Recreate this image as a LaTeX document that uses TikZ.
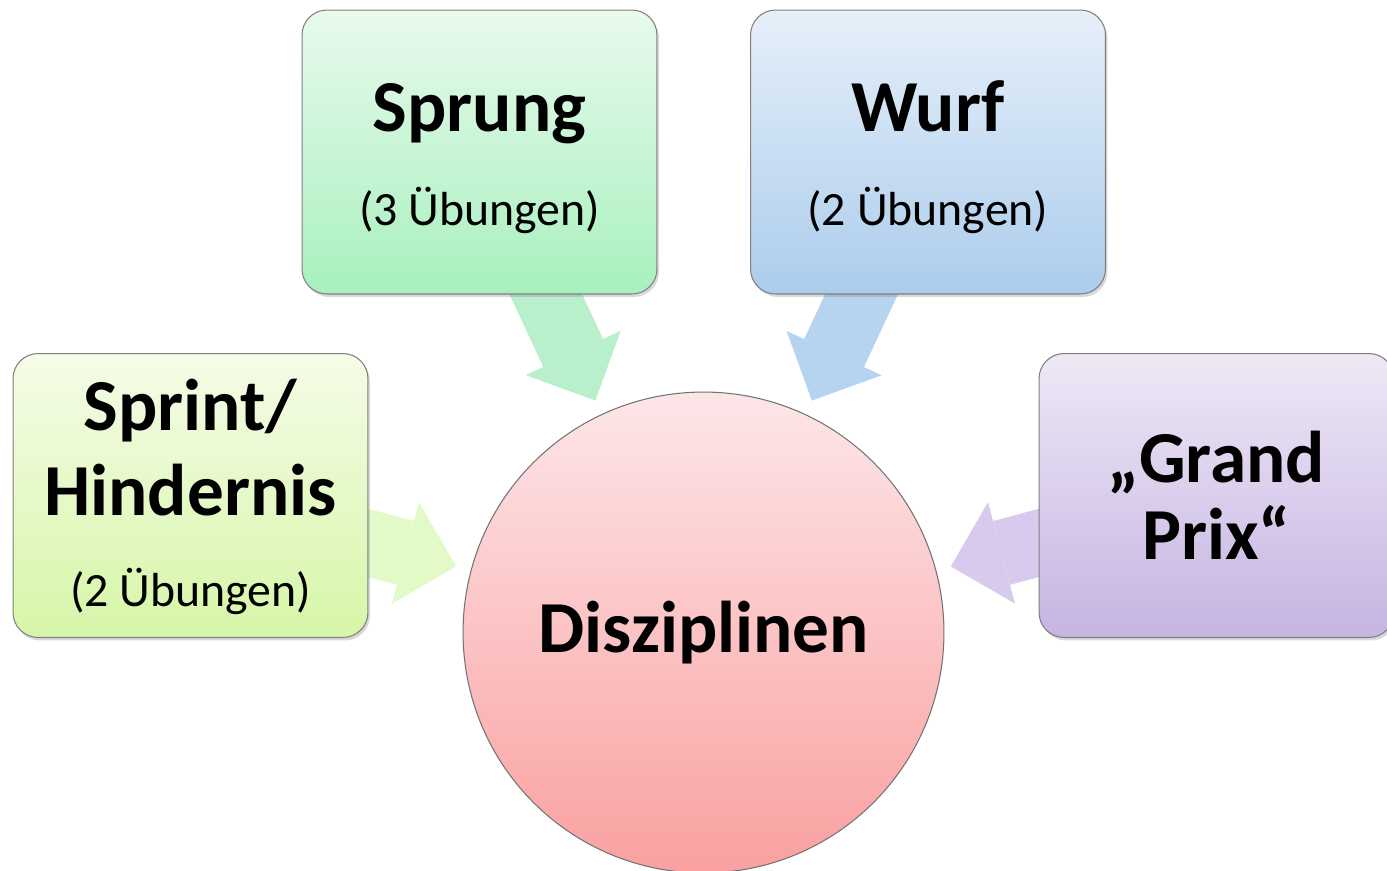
\documentclass[tikz,border=0pt]{standalone}
\usepackage{fontspec}
\setmainfont{Carlito}
\usetikzlibrary{arrows.meta,shadows,backgrounds}

\definecolor{sprungtop}{RGB}{232,250,236}
\definecolor{sprungbot}{RGB}{168,240,190}
\definecolor{sprungarr}{RGB}{184,240,204}
\definecolor{wurftop}{RGB}{230,240,250}
\definecolor{wurfbot}{RGB}{172,204,236}
\definecolor{wurfarr}{RGB}{182,212,240}
\definecolor{sprinttop}{RGB}{245,252,232}
\definecolor{sprintbot}{RGB}{214,246,168}
\definecolor{sprintarr}{RGB}{226,250,200}
\definecolor{grandtop}{RGB}{238,232,246}
\definecolor{grandbot}{RGB}{198,180,226}
\definecolor{grandarr}{RGB}{216,202,236}
\definecolor{disctop}{RGB}{253,230,232}
\definecolor{discbot}{RGB}{250,160,160}

\newcommand{\titel}{\fontsize{41.7}{48}\selectfont\bfseries}
\newcommand{\unter}{\fontsize{27.2}{30}\selectfont}

\tikzset{
	kasten/.style={rectangle, rounded corners=0.5cm, draw=black!50, line width=0.6pt,
		minimum width=7.1cm, minimum height=5.68cm, align=center, inner sep=0pt,
		drop shadow={shadow xshift=0.04cm, shadow yshift=-0.06cm, opacity=0.3}},
	scheibe/.style={circle, draw=black!55, line width=0.6pt, minimum size=9.62cm, inner sep=0pt,
		top color=disctop, bottom color=discbot},
	pfeil/.style={line width=1.32cm, shorten >=0.3cm,
		-{Triangle[width=2.1cm, length=1.05cm, line width=0pt]}}
}

\begin{document}
\begin{tikzpicture}[x=0.02cm, y=-0.02cm]
	\useasboundingbox (0,0) rectangle (1387,870);
	\node[scheibe] (disc) at (703.5,632.5) {\titel Disziplinen};
	\node[kasten, top color=sprungtop, bottom color=sprungbot, font=\fontsize{27.2}{53.3}\selectfont] (sprung) at (479.5,152)
		{{\titel\rule{0pt}{34.5pt}Sprung}\\{\unter (3 Übungen)}};
	\node[kasten, top color=wurftop, bottom color=wurfbot, font=\fontsize{27.2}{53.3}\selectfont] (wurf) at (928,152)
		{{\titel\rule{0pt}{34.5pt}Wurf}\\{\unter (2 Übungen)}};
	\node[kasten, top color=sprinttop, bottom color=sprintbot, font=\fontsize{27.2}{48}\selectfont] (sprint) at (190.5,495.5)
		{{\titel\rule{0pt}{31pt}Sprint/}\\{\titel Hindernis}\\[4pt]{\unter (2 Übungen)}};
	\node[kasten, top color=grandtop, bottom color=grandbot, font=\fontsize{27.2}{43.7}\selectfont] (grand) at (1216.5,495.5)
		{{\titel „Grand}\\{\titel Prix“}};
	\begin{scope}[on background layer]
		\draw[pfeil, sprungarr] (sprung.center) -- (disc);
		\draw[pfeil, wurfarr] (wurf.center) -- (disc);
		\draw[pfeil, sprintarr] (sprint.center) -- (disc);
		\draw[pfeil, grandarr] (grand.center) -- (disc);
	\end{scope}
\end{tikzpicture}
\end{document}
